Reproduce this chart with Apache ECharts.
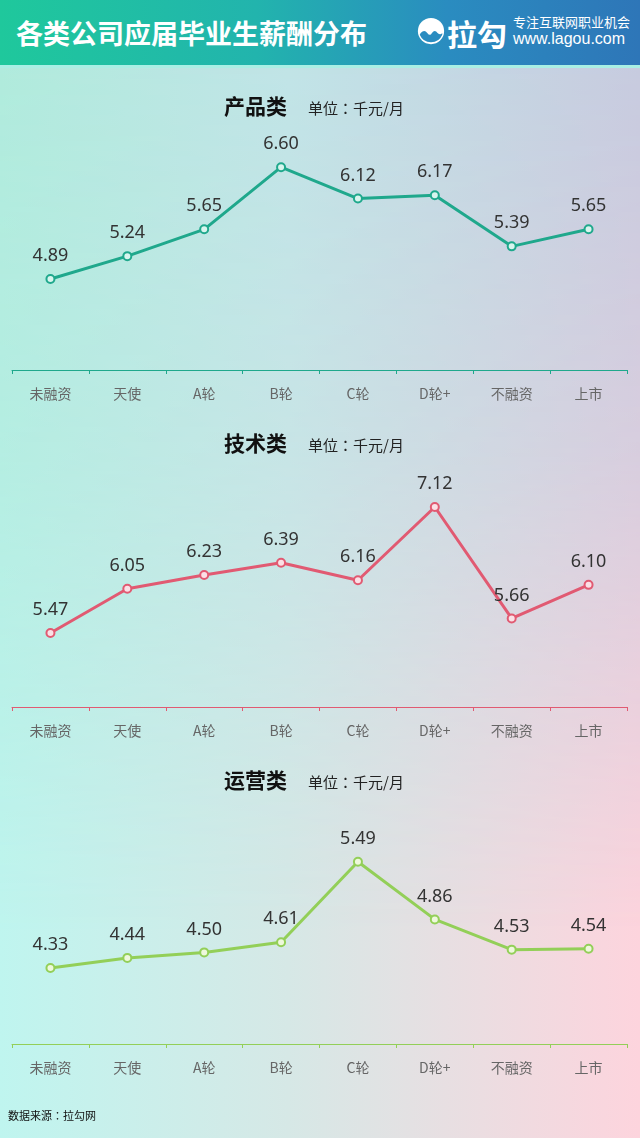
<!DOCTYPE html>
<html>
<head>
<meta charset="utf-8">
<script src="https://cdn.jsdelivr.net/npm/echarts@6/dist/echarts.min.js"></script>
<style>
  html, body { margin: 0; padding: 0; width: 640px; height: 1138px; overflow: hidden; }
  body { position: relative; font-family: "Noto Sans CJK SC", "Noto Sans", sans-serif; }
  .bg-bottom, .bg-top { position: absolute; left: 0; top: 0; width: 640px; height: 1138px; }
  .bg-bottom { background: linear-gradient(to right, #bff5ef 0%, #d6e8e6 45%, #fdd4dd 100%); }
  .bg-top {
    background: linear-gradient(to right, #afeadb 0%, #bfe3e6 45%, #c4cadf 100%);
    -webkit-mask-image: linear-gradient(to bottom, #000 0%, rgba(0,0,0,0.65) 40%, transparent 82%);
    mask-image: linear-gradient(to bottom, #000 0%, rgba(0,0,0,0.65) 40%, transparent 82%);
  }
  .header {
    position: absolute; left: 0; top: 0; width: 640px; height: 65px;
    background: linear-gradient(to right, #1fc89c 0%, #22b4ad 40%, #2a8cc0 70%, #2e76b8 100%);
    border-bottom: 3px solid #a9efe4;
  }
  .header .title {
    position: absolute; left: 16px; top: 13px; color: #fff; font-size: 27px; font-weight: bold;
  }
  .header .logo { position: absolute; left: 416px; top: 16px; }
  .header .brand {
    position: absolute; left: 447px; top: 11px; color: #fff; font-size: 30px; font-weight: bold;
  }
  .header .slogan { position: absolute; left: 513px; top: 12px; color: #fff; font-size: 13px; }
  .header .site { position: absolute; left: 513px; top: 30px; color: #fff; font-size: 16px; font-family: "Liberation Sans", Arial, sans-serif; }
  #chart { position: absolute; left: 0; top: 0; width: 640px; height: 1138px; }
  .source { position: absolute; left: 8px; top: 1107px; font-size: 11px; color: #111; font-family: "Noto Sans CJK JP", sans-serif; }
</style>
</head>
<body>
<div class="bg-bottom"></div>
<div class="bg-top"></div>
<div id="chart"></div>
<div class="header">
  <div class="title">各类公司应届毕业生薪酬分布</div>
  <svg class="logo" width="30" height="30" viewBox="0 0 32 32">
    <circle cx="16" cy="16" r="14" fill="#fff"/>
    <path d="M5 18 Q9 14 12 18 Q15 22 17 18 Q20 14 23 18 Q26 21 28 18 L28 20 A13 13 0 0 1 4 20 Z" fill="#2a8cc0"/>
  </svg>
  <div class="brand">拉勾</div>
  <div class="slogan">专注互联网职业机会</div>
  <div class="site">www.lagou.com</div>
</div>
<div class="source">数据来源：拉勾网</div>
<script>
const categories = ['未融资', '天使', 'A轮', 'B轮', 'C轮', 'D轮+', '不融资', '上市'];
const productValues = [4.89, 5.24, 5.65, 6.60, 6.12, 6.17, 5.39, 5.65];
const techValues = [5.47, 6.05, 6.23, 6.39, 6.16, 7.12, 5.66, 6.10];
const opsValues = [4.33, 4.44, 4.50, 4.61, 5.49, 4.86, 4.53, 4.54];
const panelNames = ['产品类', '技术类', '运营类'];
const unitText = '单位：千元/月';

const panels = [
  { name: panelNames[0], data: productValues, color: '#1fa88c', fill: '#d8f5ee', min: 3.5, max: 7, top: 141 },
  { name: panelNames[1], data: techValues, color: '#e15a72', fill: '#fbe0e6', min: 4.5, max: 7.5, top: 478 },
  { name: panelNames[2], data: opsValues, color: '#93cf58', fill: '#eef8dc', min: 3.5, max: 6, top: 815 }
];

const chart = echarts.init(document.getElementById('chart'), null, { renderer: 'canvas' });

const grids = [], xAxes = [], yAxes = [], series = [], titles = [];
panels.forEach((p, i) => {
  grids.push({ left: 12, right: 13, top: p.top, height: 229 });
  xAxes.push({
    type: 'category', gridIndex: i, data: categories, boundaryGap: true,
    axisLine: { lineStyle: { color: p.color, width: 1 } },
    axisTick: { show: true, length: 4, lineStyle: { color: p.color } },
    axisLabel: { color: '#666', fontSize: 14, margin: 17, fontFamily: 'Noto Sans CJK SC' }
  });
  yAxes.push({ type: 'value', gridIndex: i, min: p.min, max: p.max, show: false, splitLine: { show: false } });
  series.push({
    type: 'line', xAxisIndex: i, yAxisIndex: i, data: p.data,
    symbol: 'circle', symbolSize: 8,
    lineStyle: { color: p.color, width: 3 },
    itemStyle: { color: p.fill, borderColor: p.color, borderWidth: 2 },
    label: {
      show: true, position: 'top', distance: 9, color: '#333', fontSize: 18,
      fontFamily: 'Noto Sans', formatter: (d) => d.value.toFixed(2)
    },
    animation: false
  });
  const ty = p.top - 33;
  titles.push({
    text: p.name, left: 219, top: ty - 17,
    textStyle: { fontSize: 21, fontWeight: 'bold', color: '#111', fontFamily: 'Noto Sans CJK SC' }
  });
  titles.push({
    text: unitText, left: 303, top: ty - 12,
    textStyle: { fontSize: 15, fontWeight: 'normal', color: '#222', fontFamily: 'Noto Sans CJK JP' }
  });
});

chart.setOption({
  animation: false,
  backgroundColor: 'transparent',
  title: titles,
  grid: grids,
  xAxis: xAxes,
  yAxis: yAxes,
  series: series
});
</script>
</body>
</html>
